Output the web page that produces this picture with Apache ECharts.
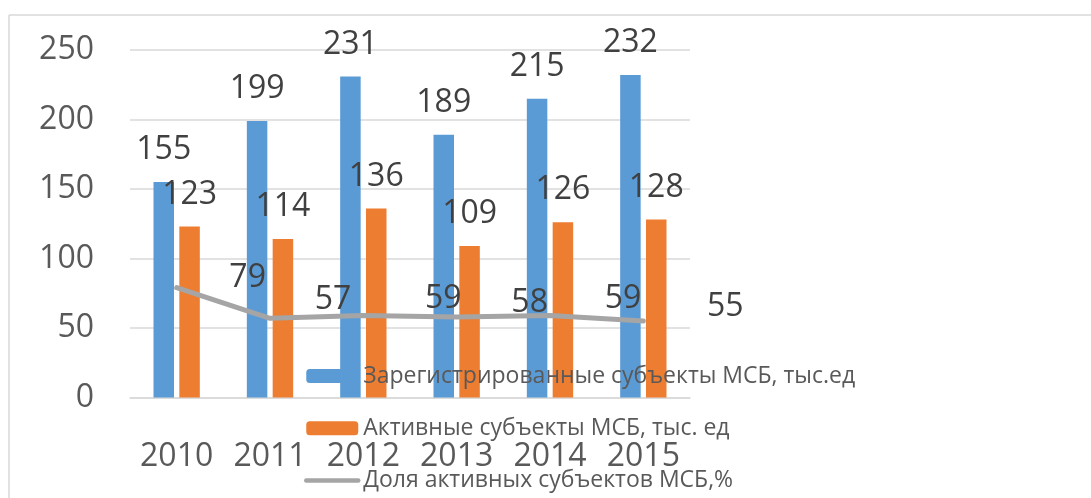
<!DOCTYPE html>
<html>
<head>
<meta charset="utf-8">
<script src="https://cdn.jsdelivr.net/npm/echarts@6/dist/echarts.min.js"></script>
<style>
  html, body { margin: 0; padding: 0; background: #ffffff; }
  #chart { width: 1091px; height: 498px; }
</style>
</head>
<body>
<div id="chart"></div>
<script>
// ---- data ----
var years = ['2010', '2011', '2012', '2013', '2014', '2015'];
var registered = [155, 199, 231, 189, 215, 232];
var active = [123, 114, 136, 109, 126, 128];
var activeShare = [79, 57, 59, 58, 59, 55];
var yTicks = { min: 0, max: 250, interval: 50 };
var seriesNames = [
  'Зарегистрированные субъекты МСБ, тыс.ед',
  'Активные субъекты МСБ, тыс. ед',
  'Доля активных субъектов МСБ,%'
];
// label offsets for the share line (style only)
var shareLabelShift = [[71, -10], [63, -18], [80, -17], [73, -14], [73, -17], [82, -14]];

var FONT = '"Open Sans", "Noto Sans", sans-serif';
var chart = echarts.init(document.getElementById('chart'), null, { renderer: 'canvas' });

var shareData = activeShare.map(function (v, i) {
  return { value: v, label: { offset: shareLabelShift[i] } };
});

var barLabel = {
  show: true,
  position: 'top',
  distance: 16,
  fontFamily: FONT,
  fontSize: 32,
  color: '#404040'
};

chart.setOption({
  animation: false,
  backgroundColor: '#ffffff',
  graphic: [
    { type: 'line', shape: { x1: 9, y1: 15, x2: 1091, y2: 15 }, style: { stroke: '#d9d9d9', lineWidth: 1.5 }, silent: true },
    { type: 'line', shape: { x1: 9, y1: 15, x2: 9, y2: 498 }, style: { stroke: '#d9d9d9', lineWidth: 1.5 }, silent: true }
  ],
  grid: { left: 130, right: 401, top: 50, bottom: 100.5, containLabel: false },
  legend: {
    orient: 'vertical',
    left: 304,
    top: 363,
    height: 200,
    padding: 0,
    itemWidth: 52,
    itemHeight: 14,
    itemGap: 26.3,
    textStyle: { fontFamily: FONT, fontSize: 23, color: '#595959', lineHeight: 26 },
    data: [
      { name: seriesNames[0] },
      { name: seriesNames[1] },
      { name: seriesNames[2], itemStyle: { opacity: 0 }, lineStyle: { width: 4.5, color: '#a5a5a5' } }
    ]
  },
  xAxis: {
    type: 'category',
    data: years,
    axisTick: { show: false },
    axisLine: { lineStyle: { color: '#d9d9d9', width: 1.5 } },
    axisLabel: { interval: 0, fontFamily: FONT, fontSize: 32, color: '#595959', margin: 43 }
  },
  yAxis: {
    type: 'value',
    min: yTicks.min,
    max: yTicks.max,
    interval: yTicks.interval,
    axisLine: { show: false },
    axisTick: { show: false },
    splitLine: { lineStyle: { color: '#d9d9d9', width: 1.5 } },
    axisLabel: { fontFamily: FONT, fontSize: 32, color: '#595959', margin: 36 }
  },
  series: [
    {
      name: seriesNames[0],
      type: 'bar',
      data: registered,
      barWidth: 20.5,
      barGap: '26%',
      itemStyle: { color: '#5b9bd5' },
      label: barLabel
    },
    {
      name: seriesNames[1],
      type: 'bar',
      data: active,
      barWidth: 20.5,
      barGap: '26%',
      itemStyle: { color: '#ed7d31' },
      label: barLabel
    },
    {
      name: seriesNames[2],
      type: 'line',
      data: shareData,
      symbol: 'circle',
      symbolSize: 0.1,
      showSymbol: true,
      itemStyle: { color: '#a5a5a5' },
      lineStyle: { color: '#a5a5a5', width: 5, cap: 'round' },
      label: {
        show: true,
        position: 'inside',
        fontFamily: FONT,
        fontSize: 32,
        color: '#404040'
      },
      z: 3
    }
  ]
});
</script>
</body>
</html>
